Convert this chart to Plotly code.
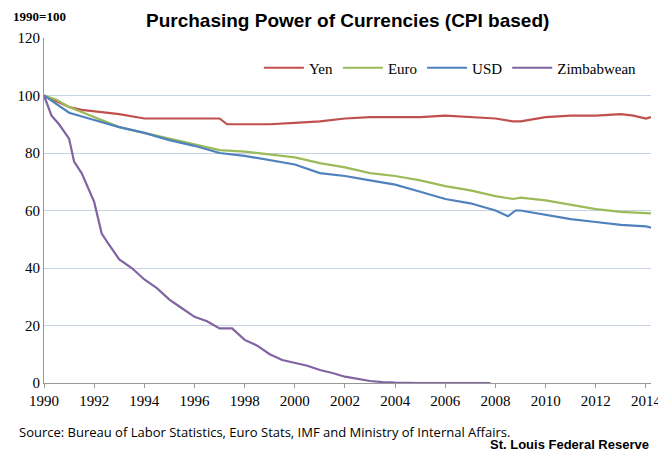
import plotly.graph_objects as go

yen_x = [1990,1990.5,1991,1991.5,1992,1993,1994,1995,1996,1997,1997.3,1998,1999,2000,2001,2002,2003,2004,2005,2006,2007,2008,2008.7,2009,2010,2011,2012,2013,2013.5,2014,2014.2]
yen_y = [100,98,96,95,94.5,93.5,92,92,92,92,90,90,90,90.5,91,92,92.5,92.5,92.5,93,92.5,92,91,91,92.5,93,93,93.5,93,92,92.5]
euro_x = [1990,1990.5,1991,1992,1993,1994,1995,1996,1997,1998,1999,2000,2001,2002,2003,2004,2005,2006,2007,2008,2008.7,2009,2010,2011,2012,2013,2014,2014.2]
euro_y = [100,98.5,96,92.5,89,87,85,83,81,80.5,79.5,78.5,76.5,75,73,72,70.5,68.5,67,65,64,64.5,63.5,62,60.5,59.5,59,59]
usd_x = [1990,1990.5,1991,1992,1993,1994,1995,1996,1997,1998,1999,2000,2001,2002,2003,2004,2005,2006,2007,2008,2008.5,2008.8,2009,2010,2011,2012,2013,2014,2014.2]
usd_y = [100,97,94,91.5,89,87,84.5,82.5,80,79,77.5,76,73,72,70.5,69,66.5,64,62.5,60,58,60,60,58.5,57,56,55,54.5,54]
zim_x = [1990,1990.3,1990.6,1991,1991.2,1991.5,1992,1992.3,1992.6,1993,1993.5,1994,1994.5,1995,1995.5,1996,1996.5,1997,1997.5,1998,1998.5,1999,1999.5,2000,2000.5,2001,2001.5,2002,2002.5,2003,2003.5,2004,2005,2006,2007,2007.8]
zim_y = [100,93,90,85,77,73,63,52,48,43,40,36,33,29,26,23,21.5,19,19,15,13,10,8,7,6,4.5,3.5,2.2,1.5,0.7,0.3,0.1,0,0,0,0]

series = [("Yen", yen_x, yen_y, "#c0504d"), ("Euro", euro_x, euro_y, "#9bbb59"),
          ("USD", usd_x, usd_y, "#4f81bd"), ("Zimbabwean", zim_x, zim_y, "#8064a2")]
serif = "Liberation Serif, Times New Roman, serif"

fig = go.Figure()
for name, x, y, c in series:
    fig.add_trace(go.Scatter(x=x, y=y, name=name, mode="lines", line=dict(color=c, width=2.2)))

fig.update_layout(
    width=658, height=451, paper_bgcolor="white", plot_bgcolor="white",
    margin=dict(l=36, r=15, t=30, b=76),
    font=dict(family=serif, size=14, color="black"),
    showlegend=True,
    legend=dict(orientation="h", x=0.985, xanchor="right", y=0.913, yanchor="middle",
                font=dict(family=serif, size=15), bgcolor="rgba(0,0,0,0)",
                itemwidth=40, tracegroupgap=0),
    xaxis=dict(range=[1990, 2014.2], tickvals=list(range(1990, 2015, 2)), showgrid=False,
               showline=True, linecolor="#999", ticks="outside", ticklen=4, tickcolor="#999",
               tickfont=dict(family=serif, size=15), zeroline=False, automargin=False),
    yaxis=dict(range=[0, 120], tickvals=[0, 20, 40, 60, 80, 100, 120], showgrid=True,
               gridcolor="#c6d3e3", showline=True, linecolor="#999", zeroline=False,
               tickfont=dict(family=serif, size=15), automargin=False),
)
fig.add_annotation(text="<b>Purchasing Power of Currencies (CPI based)</b>", xref="paper", yref="paper",
                   x=0.5, y=1.052, yanchor="middle", showarrow=False,
                   font=dict(family="Liberation Sans, Arial", size=19))
fig.add_annotation(text="<b>1990=100</b>", xref="paper", yref="paper", x=-0.055, xanchor="left",
                   y=1.061, yanchor="middle", showarrow=False, font=dict(family=serif, size=13))
fig.add_annotation(text="Source: Bureau of Labor Statistics, Euro Stats, IMF and Ministry of Internal Affairs.",
                   xref="paper", yref="paper", x=-0.045, xanchor="left", y=-0.142, yanchor="middle",
                   showarrow=False, font=dict(family="Open Sans, Noto Sans", size=13))
fig.add_annotation(text="<b>St. Louis Federal Reserve</b>", xref="paper", yref="paper", x=1.0,
                   xanchor="right", y=-0.177, yanchor="middle", showarrow=False,
                   font=dict(family="Liberation Sans, Arial", size=13))
fig.add_shape(type="line", xref="paper", yref="paper", x0=-0.06, x1=1.02, y0=1.10, y1=1.10,
              line=dict(color="#bbb", width=1))
fig.write_html("out.html")
